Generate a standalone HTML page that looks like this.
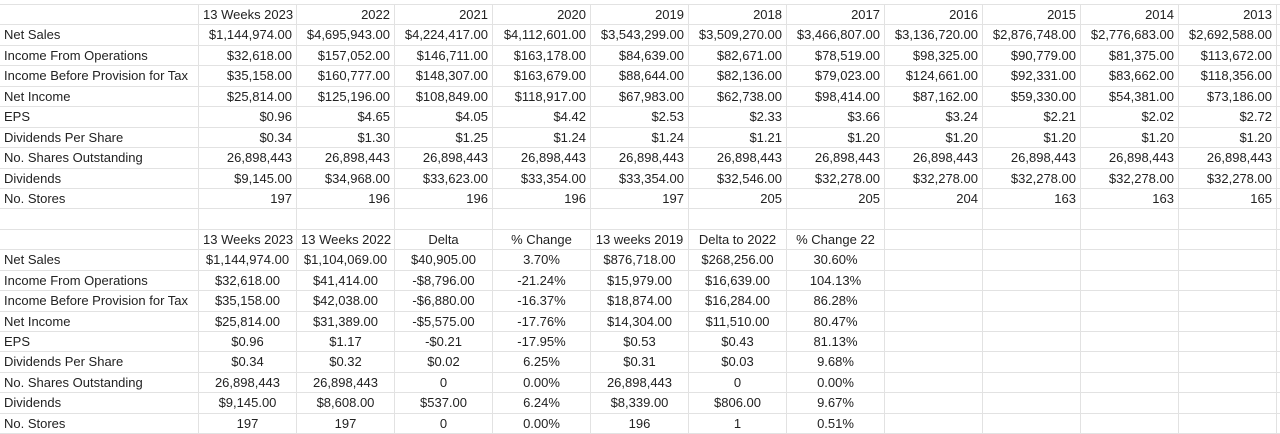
<!DOCTYPE html>
<html><head><meta charset="utf-8">
<style>
html,body{margin:0;padding:0;background:#fff;width:1280px;height:434px;overflow:hidden}
#grid{position:absolute;left:0;top:4px;display:grid;grid-template-columns:199px repeat(11,98px) 3px;grid-template-rows:repeat(21,20.45px);border-top:1px solid #e2e2e2;box-sizing:border-box;font-family:"Liberation Sans",Arial,sans-serif;font-size:13px;color:#222}
.c{border-right:1px solid #e2e2e2;border-bottom:1px solid #e2e2e2;box-sizing:border-box;white-space:nowrap;overflow:hidden;padding:0 4px;line-height:19px}
.l{text-align:left}.r{text-align:right}.m{text-align:center}
</style></head><body>
<div id="grid"></div>
<script>
const labels=["Net Sales","Income From Operations","Income Before Provision for Tax","Net Income","EPS","Dividends Per Share","No. Shares Outstanding","Dividends","No. Stores"];
const topHeaders=["13 Weeks 2023","2022","2021","2020","2019","2018","2017","2016","2015","2014","2013"];
const topRows=[
["$1,144,974.00","$4,695,943.00","$4,224,417.00","$4,112,601.00","$3,543,299.00","$3,509,270.00","$3,466,807.00","$3,136,720.00","$2,876,748.00","$2,776,683.00","$2,692,588.00"],
["$32,618.00","$157,052.00","$146,711.00","$163,178.00","$84,639.00","$82,671.00","$78,519.00","$98,325.00","$90,779.00","$81,375.00","$113,672.00"],
["$35,158.00","$160,777.00","$148,307.00","$163,679.00","$88,644.00","$82,136.00","$79,023.00","$124,661.00","$92,331.00","$83,662.00","$118,356.00"],
["$25,814.00","$125,196.00","$108,849.00","$118,917.00","$67,983.00","$62,738.00","$98,414.00","$87,162.00","$59,330.00","$54,381.00","$73,186.00"],
["$0.96","$4.65","$4.05","$4.42","$2.53","$2.33","$3.66","$3.24","$2.21","$2.02","$2.72"],
["$0.34","$1.30","$1.25","$1.24","$1.24","$1.21","$1.20","$1.20","$1.20","$1.20","$1.20"],
["26,898,443","26,898,443","26,898,443","26,898,443","26,898,443","26,898,443","26,898,443","26,898,443","26,898,443","26,898,443","26,898,443"],
["$9,145.00","$34,968.00","$33,623.00","$33,354.00","$33,354.00","$32,546.00","$32,278.00","$32,278.00","$32,278.00","$32,278.00","$32,278.00"],
["197","196","196","196","197","205","205","204","163","163","165"]];
const lowHeaders=["13 Weeks 2023","13 Weeks 2022","Delta","% Change","13 weeks 2019","Delta to 2022","% Change 22"];
const lowRows=[
["$1,144,974.00","$1,104,069.00","$40,905.00","3.70%","$876,718.00","$268,256.00","30.60%"],
["$32,618.00","$41,414.00","-$8,796.00","-21.24%","$15,979.00","$16,639.00","104.13%"],
["$35,158.00","$42,038.00","-$6,880.00","-16.37%","$18,874.00","$16,284.00","86.28%"],
["$25,814.00","$31,389.00","-$5,575.00","-17.76%","$14,304.00","$11,510.00","80.47%"],
["$0.96","$1.17","-$0.21","-17.95%","$0.53","$0.43","81.13%"],
["$0.34","$0.32","$0.02","6.25%","$0.31","$0.03","9.68%"],
["26,898,443","26,898,443","0","0.00%","26,898,443","0","0.00%"],
["$9,145.00","$8,608.00","$537.00","6.24%","$8,339.00","$806.00","9.67%"],
["197","197","0","0.00%","196","1","0.51%"]];
const g=document.getElementById('grid');
function cell(text,cls,name){
  const d=document.createElement('div');
  d.className='c '+cls;
  d.textContent=text;
  
  
  g.appendChild(d);
}
function row(first,vals,cls,n){
  cell(first,'l',first?'row-label':'empty-cell');
  for(let i=0;i<11;i++){cell(i<vals.length?vals[i]:'',cls,n);}
  cell('','l','edge-cell');
}
row('',topHeaders,'r','column-header');
topRows.forEach((r,i)=>row(labels[i],r,'r','value-cell'));
row('',[],'r','empty-cell');
row('',lowHeaders,'m','column-header');
lowRows.forEach((r,i)=>row(labels[i],r,'m','value-cell'));
</script>
</body></html>
